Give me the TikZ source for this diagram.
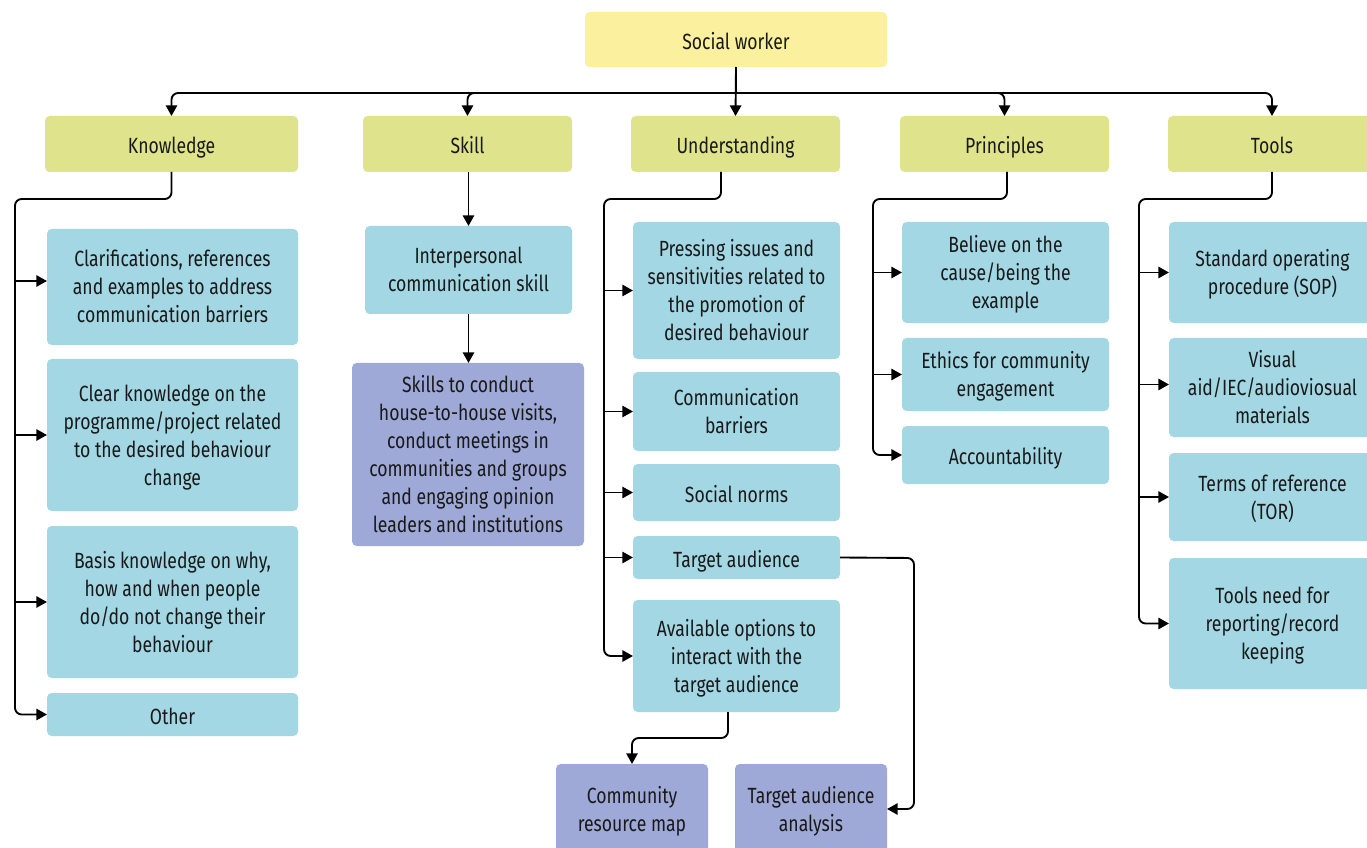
\documentclass[tikz,border=0pt]{standalone}
\usepackage{fontspec}
\setmainfont[FakeStretch=0.8]{Fira Sans}
\usetikzlibrary{arrows.meta}
\definecolor{cTop}{HTML}{FAF09E}
\definecolor{cLvl}{HTML}{DFE38B}
\definecolor{cBlue}{HTML}{A2D7E3}
\definecolor{cPurp}{HTML}{9EA9D7}
% single-line box
\newcommand\bx[7]{\node[#1, minimum width={(#5-#3)*0.75pt}, minimum height={(#6-#4)*0.75pt}] (#2) at ({(#3+#5)/2},{(#4+#6)/2}) {\rule{0pt}{19.2pt}#7\rule[-4.6pt]{0pt}{0pt}};}
% multi-line box
\newcommand\bxm[7]{\node[#1, minimum width={(#5-#3)*0.75pt}, minimum height={(#6-#4)*0.75pt}] (#2) at ({(#3+#5)/2},{(#4+#6)/2}) {\rule{0pt}{16.6pt}#7\rule[-4.6pt]{0pt}{0pt}};}
\tikzset{
  base/.style={rectangle, rounded corners=3.5pt, inner sep=0pt, outer sep=0pt, align=center,
    font=\fontsize{16.5}{21}\selectfont, text=black!90},
  topbox/.style={base, fill=cTop},
  lvl/.style={base, fill=cLvl},
  bbox/.style={base, fill=cBlue},
  pbox/.style={base, fill=cPurp},
  ln/.style={line width=1.4pt, black},
  arr/.style={ln, -{Triangle[length=8pt,width=8.5pt]}},
}
\begin{document}
\begin{tikzpicture}[x=0.75pt,y=-0.75pt]
\clip (0,0) rectangle (1367,848);
\fill[white] (0,0) rectangle (1367,848);
% top
\bx{topbox}{sw}{585}{12}{887}{67}{Social worker}
\bx{lvl}{kn}{45}{116}{298}{172}{Knowledge}
\bx{lvl}{sk}{363}{116}{572}{172}{Skill}
\bx{lvl}{un}{631}{116}{840}{172}{Understanding}
\bx{lvl}{pr}{900}{116}{1109}{172}{Principles}
\bx{lvl}{tl}{1168}{116}{1376}{172}{Tools}
% knowledge
\bxm{bbox}{k1}{47}{229}{298}{345}{Clarifications, references\\and examples to address\\communication barriers}
\bxm{bbox}{k2}{47}{359}{298}{511}{Clear knowledge on the\\programme/project related\\to the desired behaviour\\change}
\bxm{bbox}{k3}{47}{526}{298}{678}{Basis knowledge on why,\\how and when people\\do/do not change their\\behaviour}
\bx{bbox}{k4}{47}{693}{298}{736}{Other}
% skill
\bxm{bbox}{s1}{365}{226}{572}{314}{Interpersonal\\communication skill}
\bxm{pbox}{s2}{352}{363}{584}{546}{Skills to conduct\\house-to-house visits,\\conduct meetings in\\communities and groups\\and engaging opinion\\leaders and institutions}
% understanding
\bxm{bbox}{u1}{633}{222}{840}{359}{Pressing issues and\\sensitivities related to\\the promotion of\\desired behaviour}
\bxm{bbox}{u2}{633}{372}{840}{451}{Communication\\barriers}
\bx{bbox}{u3}{633}{464}{840}{521}{Social norms}
\bx{bbox}{u4}{633}{536}{840}{579}{Target audience}
\bxm{bbox}{u5}{633}{600}{840}{712}{Available options to\\interact with the\\target audience}
\bxm{pbox}{u6}{556}{764}{708}{854}{Community\\resource map}
\bxm{pbox}{u7}{735}{764}{887}{854}{Target audience\\analysis}
% principles
\bxm{bbox}{p1}{902}{222}{1109}{323}{Believe on the\\cause/being the\\example}
\bxm{bbox}{p2}{902}{338}{1109}{411}{Ethics for community\\engagement}
\bx{bbox}{p3}{902}{426}{1109}{484}{Accountability}
% tools
\bxm{bbox}{t1}{1169}{222}{1376}{323}{Standard operating\\procedure (SOP)}
\bxm{bbox}{t2}{1169}{338}{1376}{437}{Visual\\aid/IEC/audioviosual\\materials}
\bxm{bbox}{t3}{1169}{453}{1376}{541}{Terms of reference\\(TOR)}
\bxm{bbox}{t4}{1169}{558}{1376}{689}{Tools need for\\reporting/record\\keeping}
% helper coordinates
\coordinate (tb) at (736,93);
\coordinate (ts) at (1272,172);
\coordinate (k1a) at ([yshift=4.5pt]k1.west);
\coordinate (t2a) at ([yshift=2.25pt]t2.west);
% top connectors
\draw[ln] (sw.south) -- (tb);
\draw[arr, rounded corners=5pt] (tb) -| (kn.north);
\draw[arr, rounded corners=5pt] (tb) -| (sk.north);
\draw[arr] (sw.south) -- (un.north);
\draw[arr, rounded corners=5pt] (tb) -| (pr.north);
\draw[arr, rounded corners=5pt] (tb) -| (tl.north -| ts);
% knowledge trunk
\coordinate (kt) at (15,199);
\draw[arr, rounded corners=5pt] (kn.south) |- (kt) |- (k4.west);
\draw[arr] (kt |- k1a) -- (k1a);
\draw[arr] (kt |- k2.west) -- (k2.west);
\draw[arr] (kt |- k3.west) -- (k3.west);
% skill
\draw[arr] (sk.south -| s1.north) -- (s1.north);
\draw[arr] (s1.south) -- (s1.south |- s2.north);
% understanding trunk
\coordinate (ut) at (604,199);
\coordinate (us) at (721,172);
\draw[arr, rounded corners=5pt] (us) |- (ut) |- (u5.west);
\draw[arr] (ut |- u1.west) -- (u1.west);
\draw[arr] (ut |- u2.west) -- (u2.west);
\draw[arr] (ut |- u3.west) -- (u3.west);
\draw[arr] (ut |- u4.west) -- (u4.west);
\coordinate (u5b) at (728,712);
\coordinate (u5m) at (632,738);
\draw[arr, rounded corners=5pt] (u5b) |- (u5m) -- (u5m |- u6.north);
\coordinate (u4r) at (914,558);
\draw[arr, rounded corners=5pt] (u4.east) -- (u4r) |- (u7.east);
% principles trunk
\coordinate (pt) at (873,199);
\coordinate (ps) at (1007,172);
\draw[arr, rounded corners=5pt] (ps) |- (pt) |- (p3.west);
\draw[arr] (pt |- p1.west) -- (p1.west);
\draw[arr] (pt |- p2.west) -- (p2.west);
% tools trunk
\coordinate (tt) at (1139,199);
\draw[arr, rounded corners=5pt] (ts) |- (tt) |- (t4.west);
\draw[arr] (tt |- t1.west) -- (t1.west);
\draw[arr] (tt |- t2a) -- (t2a);
\draw[arr] (tt |- t3.west) -- (t3.west);
\end{tikzpicture}
\end{document}
